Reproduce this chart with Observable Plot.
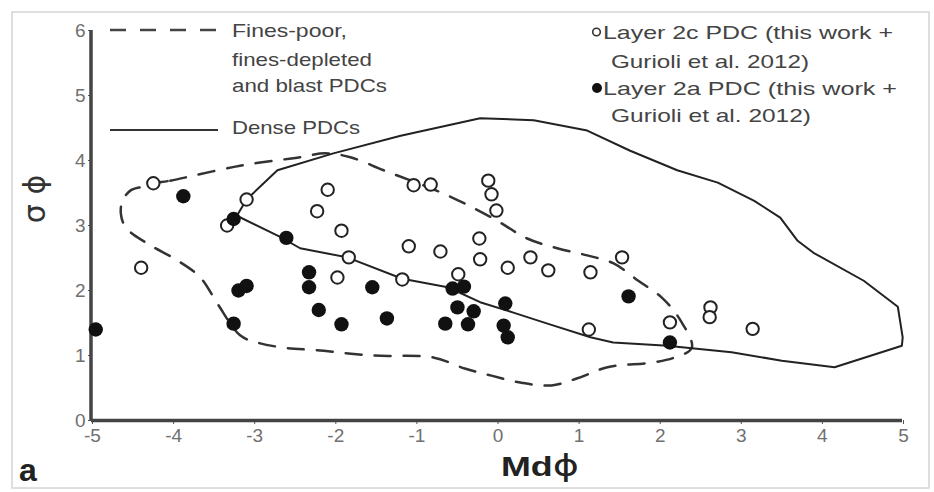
<!DOCTYPE html>
<html><head><meta charset="utf-8">
<script src="https://cdn.jsdelivr.net/npm/d3@7"></script>
<script src="https://cdn.jsdelivr.net/npm/@observablehq/plot@0.6"></script>
<style>
body{margin:0;background:#fff;}
#chart{width:934px;height:492px;}
</style></head><body><div id="chart"></div>
<script>
// ---- data ----
const xTicks = [-5, -4, -3, -2, -1, 0, 1, 2, 3, 4, 5];
const yTicks = [0, 1, 2, 3, 4, 5, 6];

const layer2cMd    = [-4.25,-4.40,-3.10,-3.34,-2.10,-2.23,-1.93,-1.84,-1.98,-1.18,-1.10,-0.71,-1.04,-0.83,-0.12,-0.08,-0.02,-0.23,-0.22,-0.49,0.12,0.40,0.62,1.14,1.53,1.12,2.12,2.62,2.61,3.14];
const layer2cSigma = [3.65,2.35,3.40,3.00,3.55,3.22,2.92,2.51,2.20,2.17,2.68,2.60,3.62,3.63,3.69,3.48,3.23,2.80,2.48,2.25,2.35,2.51,2.31,2.28,2.51,1.40,1.51,1.74,1.59,1.41];

const layer2aMd    = [-3.88,-3.26,-2.61,-3.20,-3.10,-3.26,-4.96,-2.33,-2.33,-2.21,-1.93,-1.55,-1.37,-0.65,-0.56,-0.42,-0.50,-0.30,-0.37,0.07,0.12,0.09,1.61,2.12];
const layer2aSigma = [3.45,3.10,2.81,2.00,2.07,1.49,1.40,2.28,2.05,1.70,1.48,2.05,1.57,1.49,2.03,2.06,1.74,1.68,1.48,1.46,1.28,1.80,1.91,1.20];

// Fines-poor, fines-depleted and blast PDCs field (dashed)
const finesPoorMd    = [-4.25,-4.04,-3.18,-2.44,-2.13,-1.82,-1.41,-0.67,-0.06,0.36,0.73,1.10,1.42,1.73,2.03,2.25,2.39,2.18,1.89,1.35,0.98,0.66,0.29,-0.08,-0.41,-0.80,-1.54,-2.23,-2.64,-2.97,-3.18,-3.46,-3.67,-3.95,-4.32,-4.59,-4.65,-4.63,-4.53,-4.37];
const finesPoorSigma = [3.65,3.69,3.92,4.05,4.11,4.05,3.85,3.49,3.11,2.80,2.65,2.54,2.42,2.15,1.88,1.54,1.12,0.97,0.89,0.82,0.65,0.54,0.58,0.69,0.80,0.97,1.00,1.08,1.12,1.20,1.31,1.80,2.20,2.46,2.72,2.97,3.18,3.38,3.54,3.60];

// Dense PDCs field (solid)
const denseMd    = [-3.22,-3.10,-2.72,-2.03,-1.20,-0.22,0.44,1.10,1.63,2.21,2.71,3.16,3.48,3.69,3.89,4.51,4.93,4.99,4.98,4.15,3.50,2.88,2.39,2.09,1.42,1.14,0.61,0.19,-0.22,-0.62,-1.18,-1.86,-2.44,-2.68];
const denseSigma = [3.15,3.40,3.85,4.11,4.38,4.65,4.62,4.46,4.15,3.85,3.66,3.38,3.12,2.77,2.58,2.15,1.75,1.28,1.15,0.82,0.92,1.05,1.11,1.15,1.20,1.28,1.49,1.66,1.82,2.05,2.18,2.51,2.65,2.82];

const xLabel = "Md";
const xLabelSymbol = "ϕ";
const yLabel = "σ ϕ";
const panelLabel = "a";
const fieldLegend = [["Fines-poor,", "fines-depleted", "and blast PDCs"], ["Dense PDCs"]];
const layerLegend = [["Layer 2c PDC (this work +", "Gurioli et al. 2012)"], ["Layer 2a PDC (this work +", "Gurioli et al. 2012)"]];

// ---- tables ----
const zip = (xs, ys) => xs.map((x, i) => ({x, y: ys[i]}));
const open2c = zip(layer2cMd, layer2cSigma);
const filled2a = zip(layer2aMd, layer2aSigma);
const finesPoor = zip(finesPoorMd, finesPoorSigma);
const dense = zip(denseMd, denseSigma);

const FONT = "'Liberation Sans', Arial, 'DejaVu Sans', sans-serif";
const xDom = [xTicks[0], xTicks[xTicks.length - 1]];
const yDom = [yTicks[0], yTicks[yTicks.length - 1]];

const plot = Plot.plot({
  width: 934, height: 492,
  marginLeft: 92, marginRight: 31, marginTop: 30, marginBottom: 72,
  style: {fontFamily: FONT, background: "#fff"},
  x: {domain: xDom},
  y: {domain: yDom},
  marks: [
    Plot.axisX(xTicks, {tickSize: 4, tickPadding: 4, tickFormat: d => String(d), fontSize: 16, fill: "#6a6a6a", stroke: "#555", label: null}),
    Plot.axisY(yTicks, {tickSize: 4, tickPadding: 3, tickFormat: d => String(d), fontSize: 16, fill: "#6a6a6a", stroke: "#555", label: null}),
    Plot.line(finesPoor, {x: "x", y: "y", curve: "catmull-rom-closed", stroke: "#333", strokeWidth: 2.5, strokeDasharray: "16,13"}),
    Plot.line(dense, {x: "x", y: "y", curve: "linear-closed", stroke: "#222", strokeWidth: 2}),
    Plot.ruleX([xDom[0]], {y1: yDom[0], y2: yDom[1], stroke: "#444", strokeWidth: 3.5, dx: -1.5}),
    Plot.ruleY([yDom[0]], {x1: xDom[0], x2: xDom[1], stroke: "#444", strokeWidth: 3.5, dx: -1}),
    Plot.dot(open2c, {x: "x", y: "y", r: 6.2, fill: "#fff", stroke: "#222", strokeWidth: 2}),
    Plot.dot(filled2a, {x: "x", y: "y", r: 7.2, fill: "#111", stroke: "none"})
  ]
});
document.getElementById("chart").appendChild(plot);

// ---- annotations: labels, legends, frame ----
const svg = d3.select(plot);
// restyle Plot's tick labels
svg.selectAll("text")
  .attr("font-size", 19)
  .style("font-size", "19px", "important")
  .attr("font-family", FONT)
  .style("fill", "#707070");

const g = svg.append("g").attr("font-family", FONT).attr("text-anchor", "start");
function fitText(str, x1, x2, cy, size, opts = {}) {
  return g.append("text")
    .attr("x", x1).attr("y", cy).attr("dy", "0.36em")
    .attr("text-anchor", "start")
    .attr("font-size", size)
    .attr("fill", opts.fill || "#444")
    .attr("font-weight", opts.weight || "normal")
    .attr("textLength", x2 - x1).attr("lengthAdjust", "spacingAndGlyphs")
    .text(str);
}
// frame border
g.append("rect").attr("x", 12).attr("y", 12).attr("width", 917).attr("height", 476)
  .attr("fill", "none").attr("stroke", "#d4d4d4").attr("stroke-width", 1.5);

// left legend
g.append("line").attr("x1", 110).attr("x2", 218).attr("y1", 30).attr("y2", 30)
  .attr("stroke", "#444").attr("stroke-width", 2.5).attr("stroke-dasharray", "16,14");
fitText(fieldLegend[0][0], 232, 347, 30, 18.5);
fitText(fieldLegend[0][1], 232, 372, 59, 18.5);
fitText(fieldLegend[0][2], 232, 387, 85, 18.5);
g.append("line").attr("x1", 110).attr("x2", 218).attr("y1", 130).attr("y2", 130)
  .attr("stroke", "#333").attr("stroke-width", 2);
fitText(fieldLegend[1][0], 232, 360, 127, 18.5);

// right legend
g.append("circle").attr("cx", 596.5).attr("cy", 32).attr("r", 3.8)
  .attr("fill", "#fff").attr("stroke", "#333").attr("stroke-width", 1.6);
fitText(layerLegend[0][0], 603, 893, 32, 18.5);
fitText(layerLegend[0][1], 611, 809, 61, 18.5);
g.append("circle").attr("cx", 597).attr("cy", 88).attr("r", 5).attr("fill", "#111");
fitText(layerLegend[1][0], 603, 897, 88, 18.5);
fitText(layerLegend[1][1], 611, 811, 115, 18.5);

// x label
const xl = g.append("text").attr("x", 501).attr("y", 466).attr("dy", "0.36em")
  .attr("text-anchor", "start")
  .attr("font-size", 27).attr("fill", "#222")
  .attr("textLength", 78).attr("lengthAdjust", "spacingAndGlyphs");
xl.append("tspan").attr("font-weight", "bold").text(xLabel);
xl.append("tspan").attr("font-family", "'DejaVu Sans', sans-serif").attr("font-weight", "normal").attr("font-size", 30).text(xLabelSymbol);

// y label (rotated)
g.append("text").attr("transform", "translate(34,199) rotate(-90)")
  .attr("text-anchor", "middle").attr("dy", "0.36em")
  .attr("font-size", 30).attr("fill", "#333")
  .attr("font-family", "'DejaVu Sans', sans-serif")
  .text(yLabel);

// panel label
g.append("text").attr("x", 19).attr("y", 469).attr("dy", "0.36em")
  .attr("text-anchor", "start")
  .attr("font-size", 32).attr("font-weight", "bold").attr("fill", "#222")
  .text(panelLabel);
</script>
</body></html>
